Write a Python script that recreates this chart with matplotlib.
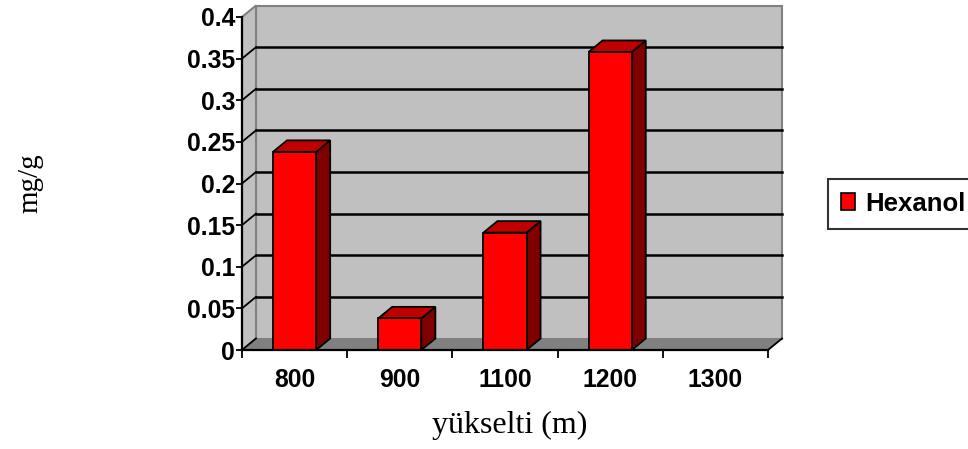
import numpy as np
import matplotlib
matplotlib.use("Agg")
import matplotlib.pyplot as plt
from matplotlib.patches import Polygon, Patch

# data
altitudes = ["800", "900", "1100", "1200", "1300"]
hexanol = [0.238, 0.038, 0.141, 0.358, np.nan]
y_ticks = [0, 0.05, 0.1, 0.15, 0.2, 0.25, 0.3, 0.35, 0.4]
y_tick_labels = ["0", "0.05", "0.1", "0.15", "0.2", "0.25", "0.3", "0.35", "0.4"]

# colours (Excel classic 3-D column look)
FRONT = "#FF0000"
TOP = "#C00000"
SIDE = "#800000"
WALL = "#C0C0C0"
FLOOR = "#808080"
WALL_EDGE = "#808080"

W, H = 968, 449
fig = plt.figure(figsize=(W / 100, H / 100), dpi=100)
fig.patch.set_facecolor("white")

# front plane of the plot area in pixels
x0, x1, y0, y1 = 242, 768, 350, 17
ax = fig.add_axes([x0 / W, (H - y0) / H, (x1 - x0) / W, (y0 - y1) / H])
ax.set_facecolor("none")

n = len(altitudes)
xs = np.arange(n)
ax.set_xlim(-0.5, n - 0.5)
ax.set_ylim(0, 0.4)

# depth offset of the 3-D box, in data units
dx = 14 / ((x1 - x0) / n)
dy = 11.5 / ((y0 - y1) / 0.4)
xl, xr = -0.5, n - 0.5
ytop = y_ticks[-1]

# back wall, side wall and floor
back = Polygon([(xl + dx, dy), (xr + dx, dy), (xr + dx, ytop + dy), (xl + dx, ytop + dy)],
               closed=True, fc=WALL, ec=WALL_EDGE, lw=1.5, clip_on=False, zorder=0)
side = Polygon([(xl, 0), (xl + dx, dy), (xl + dx, ytop + dy), (xl, ytop)],
               closed=True, fc=WALL, ec=WALL_EDGE, lw=1.5, clip_on=False, zorder=0)
floor = Polygon([(xl, 0), (xr, 0), (xr + dx, dy), (xl + dx, dy)],
                closed=True, fc=FLOOR, ec="none", clip_on=False, zorder=0.5)
for p in (back, side, floor):
    ax.add_patch(p)
ax.plot([xr, xr + dx], [0, dy], color="black", lw=1.3, clip_on=False, zorder=1)

# gridlines on the back wall and diagonals across the side wall
for v in y_ticks:
    if 0 < v < ytop:
        ax.plot([xl + dx, xr + dx], [v + dy, v + dy], color="black", lw=1.8,
                clip_on=False, zorder=1)
    if v < ytop:
        ax.plot([xl, xl + dx], [v, v + dy], color="black", lw=1.3,
                clip_on=False, zorder=1)

# 3-D columns
hw = 0.205
for x, v in zip(xs, hexanol):
    if np.isnan(v):
        continue
    front = Polygon([(x - hw, 0), (x + hw, 0), (x + hw, v), (x - hw, v)])
    right = Polygon([(x + hw, 0), (x + hw + dx, dy), (x + hw + dx, v + dy), (x + hw, v)])
    top = Polygon([(x - hw, v), (x + hw, v), (x + hw + dx, v + dy), (x - hw + dx, v + dy)])
    for poly, c in ((right, SIDE), (top, TOP), (front, FRONT)):
        poly.set_facecolor(c)
        poly.set_edgecolor("black")
        poly.set_linewidth(1.3)
        poly.set_clip_on(False)
        poly.set_zorder(3)
        ax.add_patch(poly)

# axes
for s in ("top", "right"):
    ax.spines[s].set_visible(False)
for s in ("left", "bottom"):
    ax.spines[s].set_color("black")
    ax.spines[s].set_linewidth(1.6)
    ax.spines[s].set_zorder(4)

ax.set_yticks(y_ticks)
ax.set_yticklabels(y_tick_labels)
ax.tick_params(axis="y", direction="out", length=4, width=1.3, pad=1, colors="black")
ax.set_xticks(xs)
ax.set_xticklabels(altitudes)
ax.set_xticks(np.arange(n + 1) - 0.5, minor=True)
ax.tick_params(axis="x", which="major", length=0, pad=13)
ax.tick_params(axis="x", which="minor", direction="out", length=6, width=1.3)
for lab in ax.get_xticklabels() + ax.get_yticklabels():
    lab.set_fontfamily("Liberation Sans")
    lab.set_fontweight("bold")
    lab.set_fontsize(17.8)

ax.set_xlabel("yükselti (m)", fontfamily="Liberation Serif", fontsize=23)
ax.xaxis.set_label_coords((510 - x0) / (x1 - x0), (y0 - 425) / (y0 - y1))
ax.xaxis.label.set_va("center")
ax.set_ylabel("mg/g", fontfamily="Liberation Serif", fontsize=21)
ax.yaxis.set_label_coords((30 - x0) / (x1 - x0), 0.5)
ax.yaxis.label.set_va("center")

# legend
leg = fig.legend(handles=[Patch(facecolor=FRONT, edgecolor="black", lw=1.2, label="Hexanol")],
                 loc="upper left", bbox_to_anchor=(828 / W, (H - 179) / H),
                 frameon=True, fancybox=False, shadow=False,
                 prop={"family": "Liberation Sans", "weight": "bold", "size": 18.5},
                 handlelength=0.55, handleheight=0.65, handletextpad=0.4,
                 borderpad=0.5, borderaxespad=0)
leg.get_frame().set_edgecolor("black")
leg.get_frame().set_linewidth(1.5)

fig.savefig("out.png", dpi=100, facecolor="white")
